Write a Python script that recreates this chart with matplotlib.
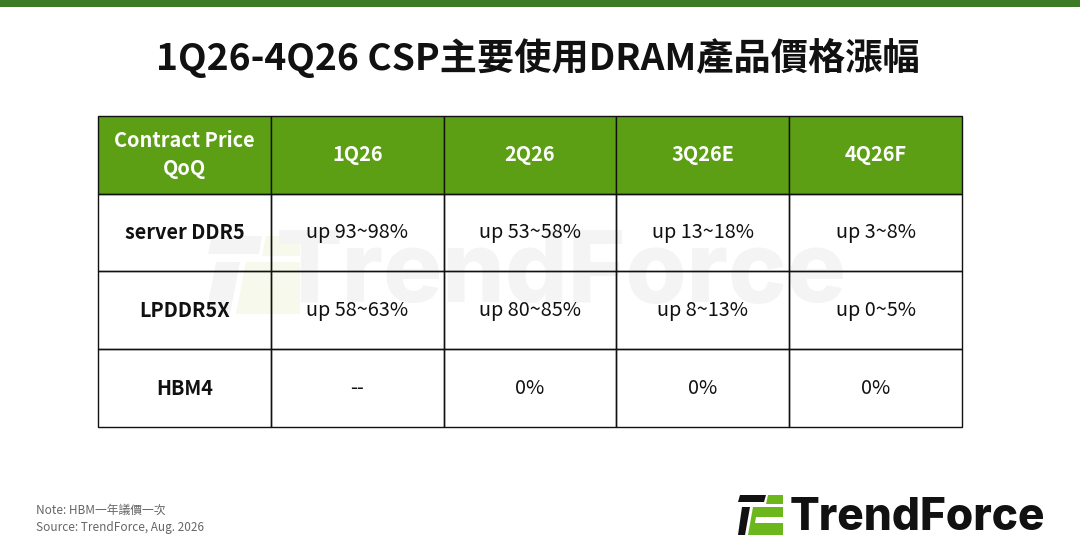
import matplotlib
matplotlib.use('Agg')
import matplotlib.pyplot as plt
from matplotlib.patches import Polygon, Rectangle

plt.rcParams['font.family'] = ['Noto Sans CJK TC', 'DejaVu Sans']

title = '1Q26-4Q26 CSP主要使用DRAM產品價格漲幅'
corner = 'Contract Price\nQoQ'
quarters = ['1Q26', '2Q26', '3Q26E', '4Q26F']
products = ['server DDR5', 'LPDDR5X', 'HBM4']
ddr5 = ['up 93~98%', 'up 53~58%', 'up 13~18%', 'up 3~8%']
lpddr5x = ['up 58~63%', 'up 80~85%', 'up 8~13%', 'up 0~5%']
hbm4 = ['--', '0%', '0%', '0%']
note = 'Note: HBM一年議價一次'
source = 'Source: TrendForce, Aug. 2026'

W, H = 1080, 560
dark_green = '#3d7a26'
head_green = '#5c9e14'
logo_green = '#6cb81c'

fig = plt.figure(figsize=(W / 100, H / 100), dpi=100)
bg = fig.add_axes([0, 0, 1, 1])
bg.set_xlim(0, W)
bg.set_ylim(H, 0)
bg.axis('off')

# top band
bg.add_patch(Rectangle((0, 0), W, 7, color=dark_green, lw=0))
bg.text(538, 58, title, ha='center', va='center', fontsize=26.8,
        fontweight='bold', color='#111111')

# faint watermark behind table
wm_grey = '#f4f4f4'
wm_green = '#f6f9ec'
bg.add_patch(Polygon([(212, 236), (262, 236), (259, 254), (208, 254)], color=wm_grey, lw=0))
bg.add_patch(Polygon([(266, 236), (300, 236), (300, 256), (262, 256)], color=wm_green, lw=0))
bg.add_patch(Polygon([(216, 262), (240, 262), (230, 314), (206, 314)], color=wm_grey, lw=0))
bg.add_patch(Polygon([(246, 262), (300, 262), (300, 314), (236, 314)], color=wm_green, lw=0))
bg.text(276, 275, 'TrendForce', ha='left', va='center', fontsize=71,
        fontfamily='Inter', fontweight='heavy', color=wm_grey)

# footer notes
bg.text(36, 510, note, ha='left', va='center', fontsize=8.5, color='#666666')
bg.text(36, 527, source, ha='left', va='center', fontsize=8.5, color='#666666')

# logo
bg.add_patch(Polygon([(740, 495), (766, 495), (764, 502), (738, 502)], color='#111111', lw=0))
bg.add_patch(Polygon([(768, 495), (783, 495), (783, 504), (766, 504)], color=logo_green, lw=0))
bg.add_patch(Polygon([(742, 507), (750, 507), (745, 535), (738, 535)], color='#111111', lw=0))
bg.add_patch(Polygon([(753, 507), (783, 507), (783, 535), (748, 535)], color=logo_green, lw=0))
bg.add_patch(Polygon([(756, 517), (783, 517), (783, 523), (755, 523)], color='white', lw=0))
bg.text(790, 518, 'TrendForce', ha='left', va='center', fontsize=31.8,
        fontfamily='Inter', fontweight='heavy', color='#111111')

# table
tx0, tx1, ty0, ty1 = 98, 962, 116, 427
tax = fig.add_axes([tx0 / W, 1 - ty1 / H, (tx1 - tx0) / W, (ty1 - ty0) / H])
tax.axis('off')
cells = [[corner] + quarters,
         [products[0]] + ddr5,
         [products[1]] + lpddr5x,
         [products[2]] + hbm4]
tbl = tax.table(cellText=cells, bbox=[0, 0, 1, 1], cellLoc='center')
tbl.auto_set_font_size(False)
for (r, c), cell in tbl.get_celld().items():
    cell.set_edgecolor('#111111')
    cell.set_linewidth(1.0)
    txt = cell.get_text()
    txt.set_fontsize(14.3)
    txt.set_linespacing(1.4)
    if r == 0:
        cell.set_facecolor(head_green)
        txt.set_color('white')
        txt.set_fontweight('bold')
    else:
        cell.set_facecolor('none')
        txt.set_color('#111111')
        if c == 0:
            txt.set_fontweight('bold')

fig.savefig('out.png', dpi=100, facecolor='white')
